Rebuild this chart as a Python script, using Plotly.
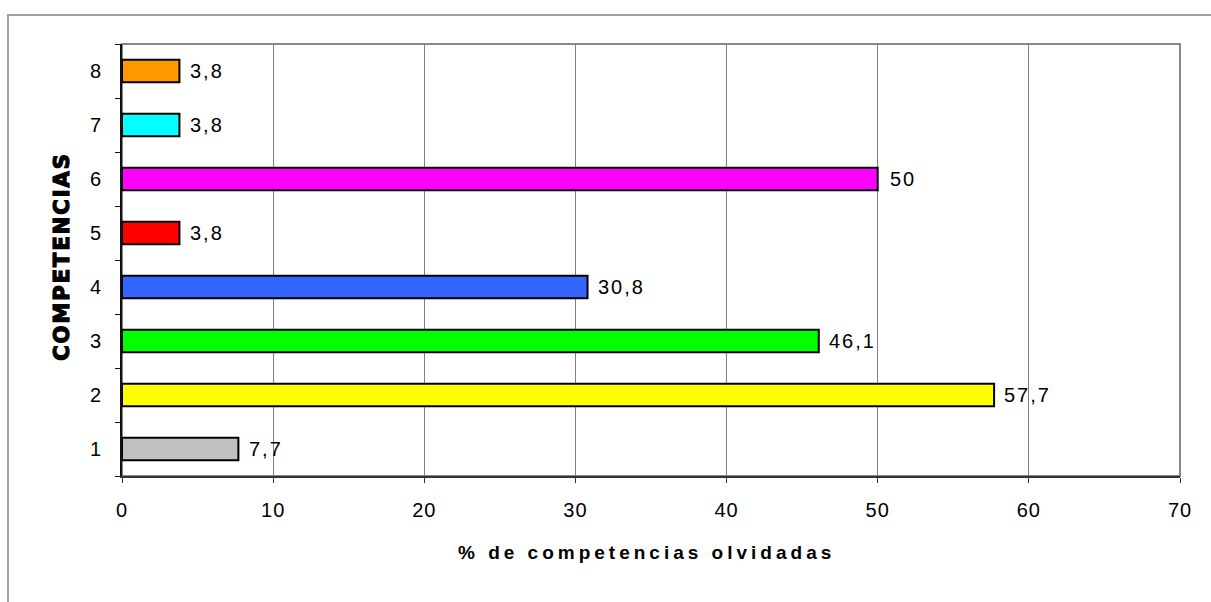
import plotly.graph_objects as go

# Competence categories (bottom to top) and % forgotten
competencias = ["1", "2", "3", "4", "5", "6", "7", "8"]
porcentajes = [7.7, 57.7, 46.1, 30.8, 3.8, 50, 3.8, 3.8]
colores = ["#C0C0C0", "#FFFF00", "#00FF00", "#3366FF",
           "#FF0000", "#FF00FF", "#00FFFF", "#FF9900"]
x_ticks = [0, 10, 20, 30, 40, 50, 60, 70]


def fmt(v):
    s = ("%g" % v)
    return s.replace(".", ",")


etiquetas = [fmt(v) for v in porcentajes]

FONT = "Liberation Sans, Arial, sans-serif"

fig = go.Figure()
fig.add_trace(go.Bar(
    x=porcentajes,
    y=competencias,
    orientation="h",
    width=0.42,
    marker=dict(color=colores, line=dict(color="#000000", width=2)),
    hoverinfo="x+y",
    showlegend=False,
))

annotations = []
# value labels next to each bar (y given as category position on the axis)
for pos, (val, lab) in enumerate(zip(porcentajes, etiquetas)):
    annotations.append(dict(
        x=val, y=pos, xref="x", yref="y", text=lab, showarrow=False,
        xanchor="left", yanchor="middle", xshift=12,
        font=dict(family=FONT, size=20, color="#000000"),
    ))

annotations.append(dict(
    x=0.496, y=-0.176, xref="paper", yref="paper",
    text="<b>% de competencias olvidadas</b>", showarrow=False,
    xanchor="center", yanchor="middle",
    font=dict(family=FONT, size=19, color="#000000"),
))
annotations.append(dict(
    x=-0.057, y=0.509, xref="paper", yref="paper",
    text="<b>COMPETENCIAS</b>", showarrow=False, textangle=-90,
    xanchor="center", yanchor="middle",
    font=dict(family="DejaVu Sans, sans-serif", size=21, color="#000000"),
))

shapes = [
    # plot area frame (top / right)
    dict(type="rect", xref="paper", yref="paper", x0=0, x1=1, y0=0, y1=1,
         line=dict(color="#888888", width=2), layer="below"),
    # outer chart frame
    dict(type="rect", xref="paper", yref="paper",
         x0=-0.1078, x1=1.04, y0=-0.33, y1=1.067,
         line=dict(color="#A0A0A0", width=2), layer="below"),
]

fig.update_layout(
    width=1211, height=602,
    margin=dict(l=122, r=31, t=44, b=126),
    paper_bgcolor="#FFFFFF", plot_bgcolor="#FFFFFF",
    font=dict(family=FONT, size=20, color="#000000"),
    annotations=annotations,
    shapes=shapes,
)
fig.update_xaxes(
    range=[0, 70], tickvals=x_ticks, ticktext=[str(t) for t in x_ticks],
    showgrid=True, gridcolor="#808080", gridwidth=1,
    showline=True, linecolor="#333333", linewidth=2,
    ticks="outside", ticklen=5, tickcolor="#333333", tickwidth=1,
    ticklabelstandoff=10, zeroline=False, automargin=False,
    tickfont=dict(family=FONT, size=20),
)
fig.update_yaxes(
    type="category", categoryorder="array", categoryarray=competencias,
    range=[-0.5, 7.5], tickson="boundaries",
    showgrid=False, showline=True, linecolor="#111111", linewidth=2,
    ticks="outside", ticklen=5, tickcolor="#111111", tickwidth=1,
    ticklabelstandoff=15, automargin=False,
    tickfont=dict(family=FONT, size=20),
)

post = """
var gd = document.getElementById('{plot_id}');
function spacing() {
  gd.querySelectorAll('.annotation-text').forEach(function (t) {
    var s = t.textContent;
    if (s.indexOf('olvidadas') >= 0) { t.style.letterSpacing = '4px'; }
    else if (s.indexOf('COMPETENCIAS') >= 0) {
      t.style.letterSpacing = '2px';
      t.style.stroke = '#000000';
      t.style.strokeWidth = '1.2px';
    }
    else { t.style.letterSpacing = '2px'; }
  });
  gd.querySelectorAll('.xtick text').forEach(function (t) {
    t.style.letterSpacing = '1px';
  });
}
spacing();
gd.on('plotly_afterplot', spacing);
"""

fig.write_html("out.html", post_script=post)
